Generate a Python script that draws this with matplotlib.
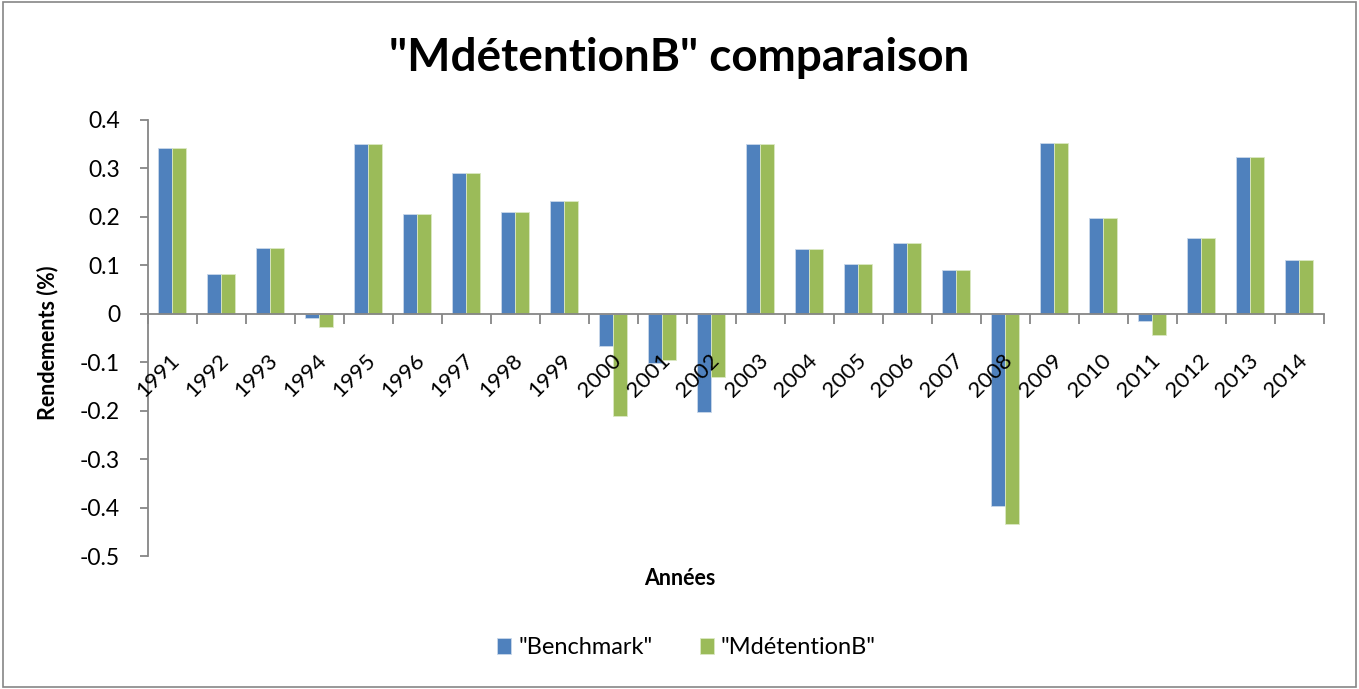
import numpy as np
import matplotlib.pyplot as plt
from matplotlib.patches import Rectangle

plt.rcParams["font.family"] = ["Lato", "DejaVu Sans"]

years = [str(y) for y in range(1991, 2015)]
benchmark = [0.343, 0.083, 0.135, -0.008, 0.350, 0.206, 0.290, 0.210, 0.232,
             -0.066, -0.101, -0.202, 0.350, 0.133, 0.102, 0.145, 0.090,
             -0.397, 0.353, 0.197, -0.016, 0.157, 0.323, 0.110]
mdetention = [0.343, 0.083, 0.135, -0.028, 0.350, 0.206, 0.290, 0.210, 0.232,
              -0.212, -0.096, -0.131, 0.350, 0.133, 0.102, 0.145, 0.090,
              -0.434, 0.353, 0.197, -0.044, 0.157, 0.323, 0.110]
yticks = [-0.5, -0.4, -0.3, -0.2, -0.1, 0, 0.1, 0.2, 0.3, 0.4]
ytick_labels = ["-0.5", "-0.4", "-0.3", "-0.2", "-0.1", "0", "0.1", "0.2", "0.3", "0.4"]

blue = "#4F81BD"
green = "#9BBB59"
axis_gray = "#868686"

fig = plt.figure(figsize=(13.59, 6.89), dpi=100)
ax = fig.add_axes([0.1089, 0.193, 0.8653, 0.633])

x = np.arange(len(years))
w = 0.2857
ax.bar(x - w / 2, benchmark, w, color=blue, edgecolor="#c9d8ea", linewidth=0.6,
       label='"Benchmark"', zorder=2)
ax.bar(x + w / 2, mdetention, w, color=green, edgecolor="#dbe8c4", linewidth=0.6,
       label='"MdétentionB"', zorder=2)

ax.set_xlim(-0.5, len(years) - 0.5)
ax.set_ylim(-0.5, 0.4)
ax.set_yticks(yticks)
ax.set_yticklabels(ytick_labels, fontsize=16.5)

for s in ["top", "right"]:
    ax.spines[s].set_visible(False)
ax.spines["bottom"].set_position(("data", 0))
ax.spines["bottom"].set_color(axis_gray)
ax.spines["left"].set_color(axis_gray)
ax.spines["bottom"].set_linewidth(1.3)
ax.spines["left"].set_linewidth(1.3)
ax.tick_params(axis="y", length=6, width=1.3, color=axis_gray, direction="out", pad=14)

# category boundary ticks on x axis
ax.set_xticks(np.arange(-0.5, len(years), 1.0))
ax.set_xticklabels([])
ax.tick_params(axis="x", length=7, width=1.3, color=axis_gray, direction="out")
# year labels sit on top of the bars, like the original
for i, lab in enumerate(years):
    ax.annotate(lab, xy=(i, 0), xycoords="data", xytext=(-2, -26), textcoords="offset points",
                rotation=45, rotation_mode="anchor", ha="right", va="top", fontsize=16,
                zorder=5)

ax.set_ylabel("Rendements (%)", fontsize=15.5, fontweight="bold")
ax.yaxis.set_label_coords(-0.0765, 0.49)
fig.text(0.5, 0.161, "Années", ha="center", va="center", fontsize=15.5, fontweight="bold")
fig.text(0.5, 0.916, '"MdétentionB" comparaison', ha="center", va="center",
         fontsize=33, fontweight="bold")

ax.legend(loc="center", bbox_to_anchor=(0.505, 0.06), bbox_transform=fig.transFigure,
          ncol=2, frameon=False, fontsize=17, handlelength=0.6, handleheight=0.7,
          columnspacing=2.0, handletextpad=0.3)

fig.patches.append(Rectangle((0.002, 0.003), 0.996, 0.994, transform=fig.transFigure,
                             fill=False, edgecolor=axis_gray, linewidth=1.2))

fig.savefig("out.png", dpi=100)
